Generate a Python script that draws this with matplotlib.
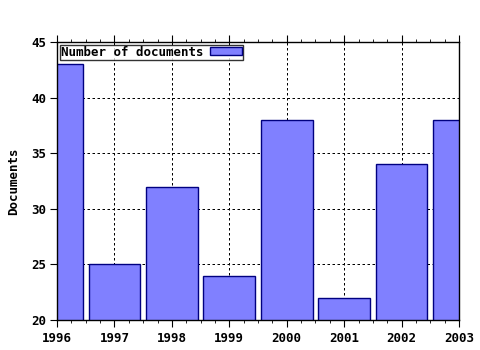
import matplotlib
matplotlib.use("Agg")
import matplotlib.pyplot as plt
from matplotlib.ticker import MultipleLocator

years = [1996, 1997, 1998, 1999, 2000, 2001, 2002, 2003]
documents = [43, 25, 32, 24, 38, 22, 34, 38]
yticks = [20, 25, 30, 35, 40, 45]

plt.rcParams['font.family'] = ['DejaVu Sans Mono']
plt.rcParams['font.weight'] = 'bold'

fig = plt.figure(figsize=(4.8, 3.5), dpi=100)
ax = fig.add_axes([57/480, 1-320/350, (459-57)/480, (320-42)/350])

ax.bar(years, documents, width=0.9, color='#8080ff', edgecolor='#000080',
       linewidth=1.0, label='Number of documents', zorder=2)

ax.set_xlim(1996, 2003)
ax.set_ylim(20, 45)
ax.set_xticks(years)
ax.set_xticklabels([str(y) for y in years], fontsize=9, fontweight='bold')
ax.set_yticks(yticks)
ax.set_yticklabels([str(v) for v in yticks], fontsize=9, fontweight='bold')
ax.xaxis.set_minor_locator(MultipleLocator(0.25))
ax.tick_params(axis='x', which='major', direction='out', length=5, top=True, pad=4)
ax.tick_params(axis='x', which='minor', direction='out', length=2, top=True)
ax.tick_params(axis='y', which='major', direction='out', length=5, pad=3)
ax.grid(True, which='major', linestyle=(0, (2.5, 2.5)), color='black', linewidth=0.72, zorder=0)
ax.set_axisbelow(True)
for s in ax.spines.values():
    s.set_linewidth(1.0)
ax.set_ylabel('Documents', fontsize=9, fontweight='bold', labelpad=8)

leg = ax.legend(loc='upper left', bbox_to_anchor=(0.0, 1.0), markerfirst=False,
                frameon=True, fancybox=False, borderpad=0.1, handlelength=2.6,
                handleheight=0.6, borderaxespad=0.2, prop={'size': 9, 'weight': 'bold'},
                handletextpad=0.5)
leg.get_frame().set_edgecolor('black')
leg.get_frame().set_linewidth(1.0)

fig.savefig('out.png', dpi=100)
